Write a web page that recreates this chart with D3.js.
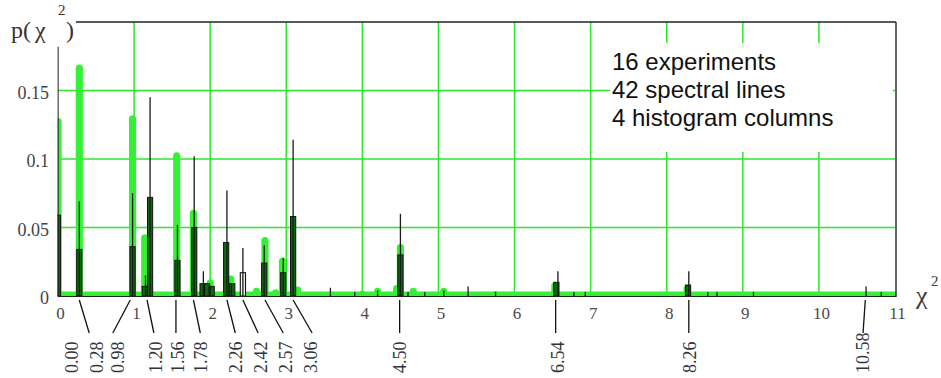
<!DOCTYPE html>
<html><head><meta charset="utf-8">
<script src="https://cdn.jsdelivr.net/npm/d3@7"></script>
<style>body{margin:0;background:#fff}svg{display:block}
.serif{font-family:"Liberation Serif","Times New Roman","DejaVu Serif",serif}
.sans{font-family:"Liberation Sans",Arial,"DejaVu Sans",sans-serif}
</style>
</head><body><svg id="c" width="941" height="378"></svg>
<script>
// ---------- data ----------
const xTickValues = [0,1,2,3,4,5,6,7,8,9,10,11];
const xTickLabels = ["0","1","2","3","4","5","6","7","8","9","10","11"];
const yTickValues = [0,0.05,0.1,0.15];
const yTickLabels = ["0","0.05","0.1","0.15"];
const gridXValues = [1,2,3,4,5,6,7,8,9,10];
const gridYValues = [0.05,0.1,0.15];

// bright green theoretical columns
const greenX = [0.00,0.28,0.98,1.14,1.56,1.78,2.00,2.27,2.61,2.72,2.86,2.95,3.15,4.00,4.20,4.45,4.50,4.67,5.07,5.75,6.53,8.27];
const greenP = [0.130,0.169,0.132,0.045,0.105,0.063,0.012,0.015,0.006,0.043,0.005,0.028,0.007,0.004,0.006,0.008,0.038,0.006,0.006,0.003,0.010,0.008];

// black spectral lines
const spikeX = [0.00,0.28,0.98,1.15,1.21,1.57,1.79,1.91,2.00,2.22,2.28,2.43,2.71,2.96,3.09,3.58,3.90,4.20,4.50,4.60,4.82,5.07,5.39,5.75,6.57,6.78,6.93,8.29,8.54,8.66,9.14,10.62,10.82];
const spikeP = [0.182,0.069,0.075,0.015,0.145,0.052,0.102,0.018,0.007,0.077,0.009,0.035,0.037,0.028,0.114,0.006,0.003,0.004,0.060,0.003,0.003,0.004,0.007,0.003,0.018,0.003,0.003,0.018,0.003,0.003,0.003,0.007,0.003];

// dark green histogram columns
const columnX = [0.00,0.28,0.98,1.14,1.21,1.57,1.79,1.90,1.96,2.02,2.21,2.29,2.71,2.96,3.09,4.50,6.55,8.28];
const columnP = [0.059,0.034,0.036,0.007,0.072,0.026,0.050,0.009,0.009,0.007,0.039,0.009,0.024,0.017,0.058,0.030,0.010,0.008];

// outlined (unfilled) column
const outlineX = [2.43];
const outlineP = [0.017];

// spectral line labels
const lineLabels = ["0.00","0.28","0.98","1.20","1.56","1.78","2.26","2.42","2.57","3.06","4.50","6.54","8.26","10.58"];
const lineAnchor = [null,0.28,0.95,1.17,1.55,1.78,2.22,2.43,2.72,3.09,4.49,6.54,8.29,10.61];
const leaderEnd  = [null,0.41,0.72,1.26,1.55,1.87,2.33,2.63,2.96,3.34,4.49,6.54,8.29,10.58];
const labelX     = [0.18,0.51,0.79,1.28,1.57,1.87,2.33,2.66,2.99,3.32,4.49,6.57,8.30,10.58];

const noteLines = ["16 experiments","42 spectral lines","4 histogram columns"];

// ---------- drawing ----------
const svg = d3.select("#c");
const x = d3.scaleLinear().domain([0,11]).range([58,895]);
const y = d3.scaleLinear().domain([0,0.2]).range([296,22]);
const GRID = "#2be82b", GREEN = "#36f036", DARK = "#0e6a0e";

svg.append("defs").append("clipPath").attr("id","plot")
  .append("rect").attr("x",x(0)-0.5).attr("y",0).attr("width",x(11)-x(0)+1.5).attr("height",y(0)+1);

// grid
svg.append("g").selectAll("line").data(gridXValues).join("line")
  .attr("x1",d=>x(d)).attr("x2",d=>x(d)).attr("y1",y(0.2)).attr("y2",y(0))
  .attr("stroke",GRID).attr("stroke-width",1.5);
svg.append("g").selectAll("line").data(gridYValues).join("line")
  .attr("x1",x(0)).attr("x2",x(11)).attr("y1",d=>y(d)).attr("y2",d=>y(d))
  .attr("stroke",GRID).attr("stroke-width",1.5);

// annotation box covering grid
svg.append("rect").attr("x",610).attr("y",43).attr("width",283).attr("height",109).attr("fill","#fff");
svg.append("g").attr("class","sans").selectAll("text").data(noteLines).join("text")
  .attr("x",612).attr("y",(d,i)=>70+i*28)
  .style("font-size","24px").attr("fill","#111").text(d=>d);

const marks = svg.append("g").attr("clip-path","url(#plot)");

// green columns
const green = d3.zip(greenX, greenP);
marks.append("g").selectAll("line").data(green).join("line")
  .attr("x1",d=>x(d[0])).attr("x2",d=>x(d[0]))
  .attr("y1",y(0)-1).attr("y2",d=>Math.min(y(d[1])+3.6, y(0)-1.2))
  .attr("stroke",GREEN).attr("stroke-width",7.2).attr("stroke-linecap","round");

// baseline band
marks.append("rect").attr("x",x(0)).attr("y",y(0)-4.5).attr("width",x(11)-x(0)+1).attr("height",4.5).attr("fill",GREEN);

// dark columns
const cols = d3.zip(columnX, columnP);
marks.append("g").selectAll("rect").data(cols).join("rect")
  .attr("x",d=>x(d[0])-2.6).attr("width",5.2)
  .attr("y",d=>y(d[1])).attr("height",d=>y(0)-y(d[1]))
  .attr("fill",DARK).attr("stroke","#111").attr("stroke-width",1);
const outl = d3.zip(outlineX, outlineP);
marks.append("g").selectAll("rect").data(outl).join("rect")
  .attr("x",d=>x(d[0])-2.6).attr("width",5.2)
  .attr("y",d=>y(d[1])).attr("height",d=>y(0)-y(d[1]))
  .attr("fill","#f4f4f4").attr("stroke","#111").attr("stroke-width",1.1);

// spectral lines
const spikes = d3.zip(spikeX, spikeP);
marks.append("g").selectAll("line").data(spikes).join("line")
  .attr("x1",d=>x(d[0])).attr("x2",d=>x(d[0]))
  .attr("y1",y(0)).attr("y2",d=>y(d[1]))
  .attr("stroke","#1a1a1a").attr("stroke-width",1.3);

// borders
svg.append("line").attr("x1",76).attr("x2",x(11)+1).attr("y1",y(0.2)).attr("y2",y(0.2)).attr("stroke","#222").attr("stroke-width",1.5);
svg.append("line").attr("x1",x(11)+1).attr("x2",x(11)+1).attr("y1",y(0.2)).attr("y2",y(0)+1).attr("stroke","#333").attr("stroke-width",1.5);
svg.append("line").attr("x1",x(0)).attr("x2",x(11)+1).attr("y1",y(0)+0.5).attr("y2",y(0)+0.5).attr("stroke","#222").attr("stroke-width",1.2);

// axes tick labels
const xAxis = d3.axisBottom(x).tickValues(xTickValues).tickFormat((d,i)=>xTickLabels[i]).tickSize(0).tickPadding(0);
const gx = svg.append("g").attr("transform",`translate(2,${y(0)+11})`).call(xAxis);
gx.attr("font-family",null).attr("font-size",null).attr("class","serif");
gx.select(".domain").remove();
gx.selectAll("text").style("font-size","17px").attr("fill","#4a4a4a");

const yAxis = d3.axisLeft(y).tickValues(yTickValues).tickFormat((d,i)=>yTickLabels[i]).tickSize(0).tickPadding(0);
const gy = svg.append("g").attr("transform",`translate(49,2)`).call(yAxis);
gy.attr("font-family",null).attr("font-size",null).attr("class","serif");
gy.select(".domain").remove();
gy.selectAll("text").style("font-size","18px").attr("fill","#444");

// leader lines and rotated labels
const lab = lineLabels.map((t,i)=>({t, a:lineAnchor[i], e:leaderEnd[i], lx:labelX[i]}));
svg.append("g").selectAll("line").data(lab.filter(d=>d.a!==null)).join("line")
  .attr("x1",d=>x(d.a)).attr("y1",y(0)+4).attr("x2",d=>x(d.e)).attr("y2",y(0)+37)
  .attr("stroke","#111").attr("stroke-width",1.3);
svg.append("g").attr("class","serif").selectAll("text").data(lab).join("text")
  .attr("transform",d=>`translate(${x(d.lx)},373) rotate(-90)`)
  .attr("dy","0.35em")
  .style("font-size","18px").attr("fill","#2f3540")
  .text(d=>d.t);

// axis titles
const yl = svg.append("g").attr("class","serif").attr("fill","#3a3030");
yl.append("text").attr("x",11).attr("y",38).style("font-size","24px").text("p(");
yl.append("text").attr("x",35).attr("y",38).style("font-size","24px").text("χ");
yl.append("text").attr("x",58).attr("y",15).style("font-size","15px").text("2");
yl.append("text").attr("x",66).attr("y",38).style("font-size","24px").text(")");

const xl = svg.append("g").attr("class","serif").attr("fill","#3a3a3a");
xl.append("text").attr("x",916).attr("y",304).style("font-size","26px").text("χ");
xl.append("text").attr("x",931).attr("y",286).style("font-size","15px").text("2");
</script></body></html>
